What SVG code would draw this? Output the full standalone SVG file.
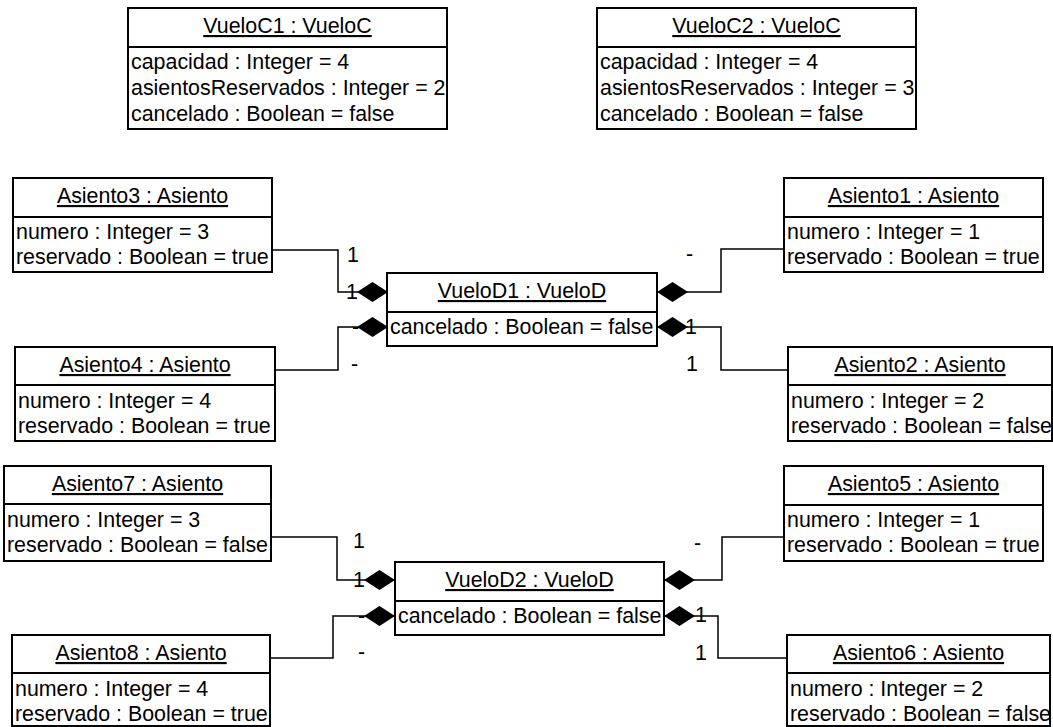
<svg xmlns="http://www.w3.org/2000/svg" width="1053" height="727" viewBox="0 0 1053 727">
  <style>
    .box { fill: #ffffff; stroke: #000000; stroke-width: 2; }
    .div { stroke: #000000; stroke-width: 2; }
    text { font-family: "Liberation Sans", Arial, sans-serif; font-size: 21.4px; fill: #000000; }
    .title { text-anchor: middle; text-decoration: underline; }
    .conn { fill: none; stroke: #000000; stroke-width: 1.5; marker-end: url(#comp); }
  </style>
  <defs>
    <!-- filled diamond: composition end, drawn at the whole-object side -->
    <marker id="comp" markerUnits="userSpaceOnUse" viewBox="0 0 31 20" markerWidth="31" markerHeight="20" refX="31" refY="10" orient="auto">
      <path d="M0,10 L15.5,0 L31,10 L15.5,20 Z" fill="#000000"/>
    </marker>
  </defs>

  <rect x="0" y="0" width="1053" height="727" fill="#ffffff"/>

  <!-- connectors (drawn first so boxes sit on top) -->
  <g id="connectors">
    <path class="conn" d="M272,250 H338 V292 H388"/>
    <path class="conn" d="M275,370 H338 V327 H388"/>
    <path class="conn" d="M784,249 H721 V292 H657"/>
    <path class="conn" d="M788,370 H721 V327 H657"/>

    <path class="conn" d="M271,537 H337 V580 H395"/>
    <path class="conn" d="M270,658 H333 V616 H395"/>
    <path class="conn" d="M784,537 H722 V580 H664"/>
    <path class="conn" d="M787,658 H718 V616 H664"/>
  </g>

  <g id="multiplicities">
    <text x="347" y="262">1</text>
    <text x="346" y="299">1</text>
    <text x="352" y="334">-</text>
    <text x="351" y="371">-</text>
    <text x="686" y="261">-</text>
    <text x="685" y="334">1</text>
    <text x="686" y="371">1</text>

    <text x="353" y="548">1</text>
    <text x="353" y="587">1</text>
    <text x="358" y="623">-</text>
    <text x="358" y="659">-</text>
    <text x="694" y="550">-</text>
    <text x="695" y="622">1</text>
    <text x="695" y="660">1</text>
  </g>

  <g id="VueloC1">
    <rect class="box" x="128" y="8" width="319" height="121"/>
    <line class="div" x1="128" y1="47" x2="447" y2="47"/>
    <text class="title" x="287.5" y="33">VueloC1 : VueloC</text>
    <text x="131" y="69">capacidad : Integer = 4</text>
    <text x="131" y="95">asientosReservados : Integer = 2</text>
    <text x="131" y="121">cancelado : Boolean = false</text>
  </g>

  <g id="VueloC2">
    <rect class="box" x="597" y="8" width="319" height="121"/>
    <line class="div" x1="597" y1="47" x2="916" y2="47"/>
    <text class="title" x="756.5" y="33">VueloC2 : VueloC</text>
    <text x="600" y="69">capacidad : Integer = 4</text>
    <text x="600" y="95">asientosReservados : Integer = 3</text>
    <text x="600" y="121">cancelado : Boolean = false</text>
  </g>

  <g id="Asiento3">
    <rect class="box" x="13" y="178" width="259" height="94"/>
    <line class="div" x1="13" y1="217" x2="272" y2="217"/>
    <text class="title" x="142.5" y="203">Asiento3 : Asiento</text>
    <text x="16" y="239">numero : Integer = 3</text>
    <text x="16" y="264">reservado : Boolean = true</text>
  </g>

  <g id="Asiento1">
    <rect class="box" x="784" y="178" width="259" height="94"/>
    <line class="div" x1="784" y1="217" x2="1043" y2="217"/>
    <text class="title" x="913.5" y="203">Asiento1 : Asiento</text>
    <text x="787" y="239">numero : Integer = 1</text>
    <text x="787" y="264">reservado : Boolean = true</text>
  </g>

  <g id="VueloD1">
    <rect class="box" x="387" y="273" width="270" height="73"/>
    <line class="div" x1="387" y1="312" x2="657" y2="312"/>
    <text class="title" x="522" y="298">VueloD1 : VueloD</text>
    <text x="390" y="334">cancelado : Boolean = false</text>
  </g>

  <g id="Asiento4">
    <rect class="box" x="15" y="347" width="260" height="94"/>
    <line class="div" x1="15" y1="385" x2="275" y2="385"/>
    <text class="title" x="145" y="372">Asiento4 : Asiento</text>
    <text x="18" y="408">numero : Integer = 4</text>
    <text x="18" y="433">reservado : Boolean = true</text>
  </g>

  <g id="Asiento2">
    <rect class="box" x="788" y="347" width="264" height="94"/>
    <line class="div" x1="788" y1="385" x2="1052" y2="385"/>
    <text class="title" x="920" y="372">Asiento2 : Asiento</text>
    <text x="791" y="408">numero : Integer = 2</text>
    <text x="791" y="433">reservado : Boolean = false</text>
  </g>

  <g id="Asiento7">
    <rect class="box" x="4" y="466" width="267" height="95"/>
    <line class="div" x1="4" y1="504" x2="271" y2="504"/>
    <text class="title" x="137.5" y="491">Asiento7 : Asiento</text>
    <text x="7" y="527">numero : Integer = 3</text>
    <text x="7" y="552">reservado : Boolean = false</text>
  </g>

  <g id="Asiento5">
    <rect class="box" x="784" y="466" width="259" height="95"/>
    <line class="div" x1="784" y1="505" x2="1043" y2="505"/>
    <text class="title" x="913.5" y="491">Asiento5 : Asiento</text>
    <text x="787" y="527">numero : Integer = 1</text>
    <text x="787" y="552">reservado : Boolean = true</text>
  </g>

  <g id="VueloD2">
    <rect class="box" x="395" y="562" width="269" height="73"/>
    <line class="div" x1="395" y1="601" x2="664" y2="601"/>
    <text class="title" x="529.5" y="587">VueloD2 : VueloD</text>
    <text x="398" y="623">cancelado : Boolean = false</text>
  </g>

  <g id="Asiento8">
    <rect class="box" x="12" y="635" width="258" height="91"/>
    <line class="div" x1="12" y1="673" x2="270" y2="673"/>
    <text class="title" x="141" y="660">Asiento8 : Asiento</text>
    <text x="15" y="696">numero : Integer = 4</text>
    <text x="15" y="721">reservado : Boolean = true</text>
  </g>

  <g id="Asiento6">
    <rect class="box" x="787" y="635" width="263" height="91"/>
    <line class="div" x1="787" y1="673" x2="1050" y2="673"/>
    <text class="title" x="918.5" y="660">Asiento6 : Asiento</text>
    <text x="790" y="696">numero : Integer = 2</text>
    <text x="790" y="721">reservado : Boolean = false</text>
  </g>
</svg>
